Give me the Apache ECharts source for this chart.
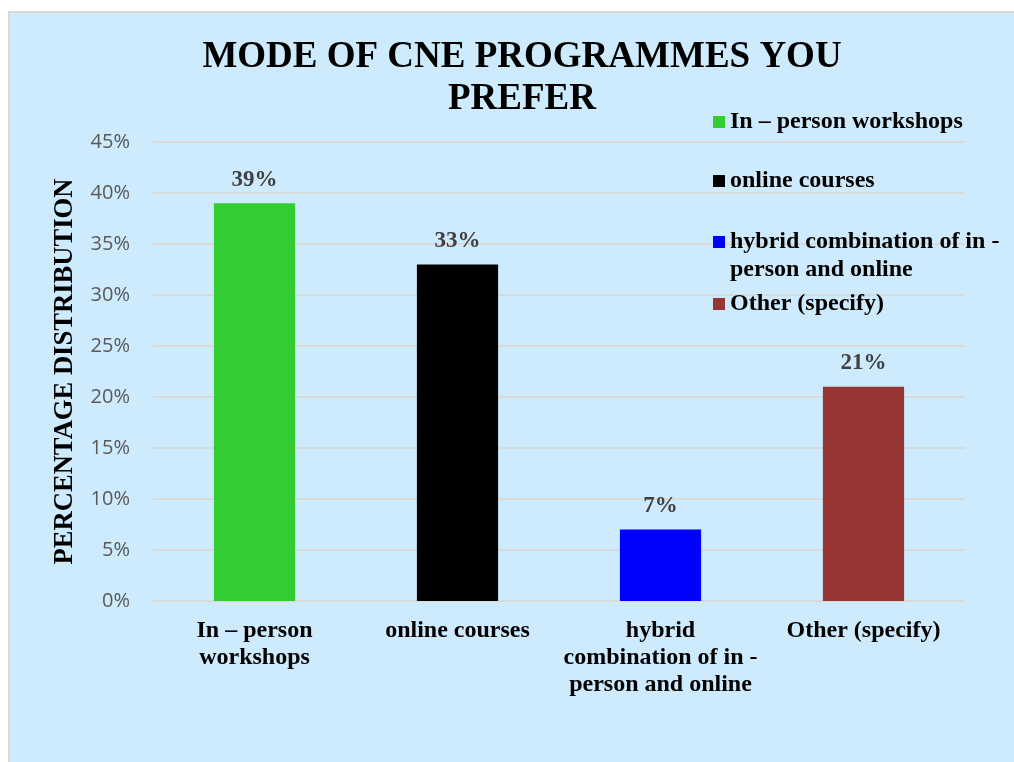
<!DOCTYPE html>
<html>
<head>
<meta charset="utf-8">
<title>Mode of CNE programmes you prefer</title>
<script src="https://cdn.jsdelivr.net/npm/echarts@6/dist/echarts.min.js"></script>
<style>
  html, body { margin: 0; padding: 0; background: #ffffff; overflow: hidden; }
  #frame {
    position: absolute; left: 8px; top: 11px; width: 1020px; height: 770px;
    background: #cdebfd; border-left: 2px solid #d9d9d9; border-top: 2px solid #d9d9d9;
  }
  #chart { position: absolute; left: 0; top: 0; width: 1014px; height: 762px; }
</style>
</head>
<body>
<div id="frame"></div>
<div id="chart"></div>
<script>
// Response categories and their share of respondents (%)
const categories = [
  'In – person workshops',
  'online courses',
  'hybrid combination of in - person and online',
  'Other (specify)'
];
const shares = [39, 33, 7, 21];
const barColors = ['#33cc33', '#000000', '#0000ff', '#963634'];

// Wrapped text for the category axis and the legend
const axisLabelText = [
  'In – person\nworkshops',
  'online courses',
  'hybrid\ncombination of in -\nperson and online',
  'Other (specify)'
];
const legendText = [
  'In – person workshops',
  'online courses',
  'hybrid combination of in -\nperson and online',
  'Other (specify)'
];
const legendTops = [108, 167, 228, 290];

const serif = '"Liberation Serif", "Times New Roman", serif';

const chart = echarts.init(document.getElementById('chart'), null, { renderer: 'canvas' });

// One series per category so each gets its own legend entry
const series = categories.map(function (name, i) {
  return {
    name: name,
    type: 'bar',
    stack: 'share',
    barWidth: '40%',
    itemStyle: { color: barColors[i] },
    data: shares.map(function (v, j) { return j === i ? v : '-'; }),
    label: {
      show: true,
      position: 'top',
      distance: 12,
      formatter: '{c}%',
      fontFamily: serif,
      fontWeight: 'bold',
      fontSize: 23,
      color: '#404040'
    }
  };
});

// Separate legend blocks keep the even vertical rhythm of the entries
const legends = categories.map(function (name, i) {
  const twoLine = legendText[i].indexOf('\n') >= 0;
  return {
    data: [name],
    left: 713,
    top: legendTops[i],
    padding: 0,
    orient: 'vertical',
    selectedMode: false,
    itemWidth: 12,
    itemHeight: twoLine ? 40 : 12,
    icon: twoLine ? 'path://M0,0H12V12H0Z M0,40H12' : 'rect',
    formatter: function () { return legendText[i]; },
    textStyle: {
      fontFamily: serif,
      fontWeight: 'bold',
      fontSize: 24,
      lineHeight: 28,
      color: '#000000'
    }
  };
});

chart.setOption({
  backgroundColor: 'transparent',
  animation: false,
  title: {
    text: 'MODE OF CNE PROGRAMMES YOU\nPREFER',
    left: 517,
    top: 31,
    textAlign: 'center',
    textStyle: {
      fontFamily: serif,
      fontWeight: 'bold',
      fontSize: 37,
      lineHeight: 42,
      color: '#000000'
    }
  },
  legend: legends,
  grid: { left: 153, right: 49, top: 142, bottom: 161 },
  xAxis: {
    type: 'category',
    data: categories,
    axisLine: { show: false },
    axisTick: { show: false },
    axisLabel: {
      margin: 16,
      interval: 0,
      formatter: function (value, idx) { return axisLabelText[idx]; },
      fontFamily: serif,
      fontWeight: 'bold',
      fontSize: 24,
      lineHeight: 27,
      color: '#000000'
    }
  },
  yAxis: {
    type: 'value',
    min: 0,
    max: 45,
    interval: 5,
    name: 'PERCENTAGE DISTRIBUTION',
    nameLocation: 'middle',
    nameRotate: 90,
    nameGap: 74,
    nameTextStyle: {
      fontFamily: serif,
      fontWeight: 'bold',
      fontSize: 26.6,
      color: '#000000'
    },
    axisLine: { show: false },
    axisTick: { show: false },
    splitLine: { lineStyle: { color: '#d9d9d9', width: 2 } },
    axisLabel: {
      margin: 23,
      formatter: '{value}%',
      fontFamily: '"Open Sans", sans-serif',
      fontSize: 20,
      color: '#595959'
    }
  },
  series: series
});
</script>
</body>
</html>
